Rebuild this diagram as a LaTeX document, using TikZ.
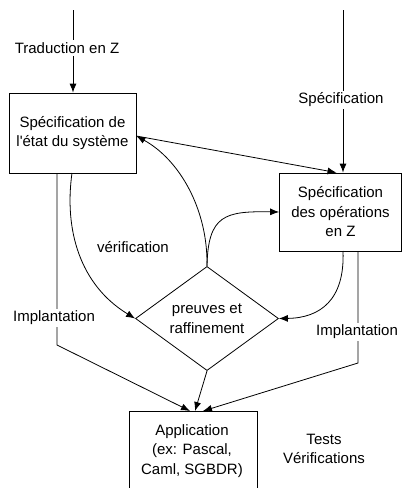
\documentclass[tikz,border=0pt]{standalone}
\usepackage{fontspec}
\setmainfont{Liberation Sans}[Ligatures=TeXOff]
\usetikzlibrary{shapes.geometric,arrows.meta}
\begin{document}
\begin{tikzpicture}[x=1pt,y=-1pt,
  every node/.style={font=\fontsize{15}{19.5}\selectfont, align=center},
  box/.style={draw, line width=0.8pt, inner sep=0pt},
  decision/.style={draw, diamond, line width=0.8pt, inner sep=0pt,
    minimum width=143pt, minimum height=101pt},
  link/.style={line width=0.8pt, -{Latex[length=9pt,width=7pt]}},
  tag/.style={fill=white, inner sep=2pt}]
\useasboundingbox (0,0) rectangle (403,488);

% boxes
\node[box, minimum width=127pt, minimum height=80pt] (etat) at (72.5,133)
  {Spécification de\\l'état du système};
\node[box, minimum width=122pt, minimum height=78pt] (ops) at (340.5,212)
  {Spécification\\des opérations\\en Z};
\node[decision] (preuves) at (207,318.5) {preuves et\\raffinement};
\node[box, minimum width=128pt, minimum height=90pt, anchor=north] (app) at (193,411) {};
\node at (192,451) {Application\\(ex: Pascal,\\Caml, SGBDR)};

% free ends and bends
\coordinate (srcZ) at (73,10);
\coordinate (srcSpec) at (343,10);
\coordinate (bendL) at (57,345);
\coordinate (bendR) at (358,363);

% inputs from above
\draw[link] (srcZ) -- (srcZ |- etat.north);
\draw[link] (srcSpec) -- (srcSpec |- ops.north);

% state spec to operations spec
\draw[link] ([yshift=-3pt]etat.east) -- ([xshift=-4pt]ops.north);

% loops through the proofs
\draw[link] (preuves.north) .. controls (208,210) and (180,160) .. ([yshift=-3pt]etat.east);
\draw[link] (preuves.north) .. controls (208,215) and (225,211) .. (ops.west);
\draw[link] (72,173) .. controls (64,230) and (80,285) .. (preuves.west);
\draw[link] (343,251) .. controls (345,300) and (320,318) .. (preuves.east);

% towards the application
\draw[link] (preuves.south) -- ([xshift=2pt]app.north);
\draw[link] (57,173) -- (bendL) -- ([xshift=-3pt]app.north);
\draw[link] (358,251) -- (bendR) -- ([xshift=10pt]app.north);

% labels
\node[tag] (lTrad) at (67,48) {Traduction en Z};
\node[tag] (lSpec) at (341,100) {Spécification};
\node (lVerif) at (133,247) {vérification};
\node[tag] (lImpL) at (54,318) {Implantation};
\node[tag] (lImpR) at (357,332) {Implantation};
\node (lTests) at (324,449) {Tests\\Vérifications};
\end{tikzpicture}
\end{document}
